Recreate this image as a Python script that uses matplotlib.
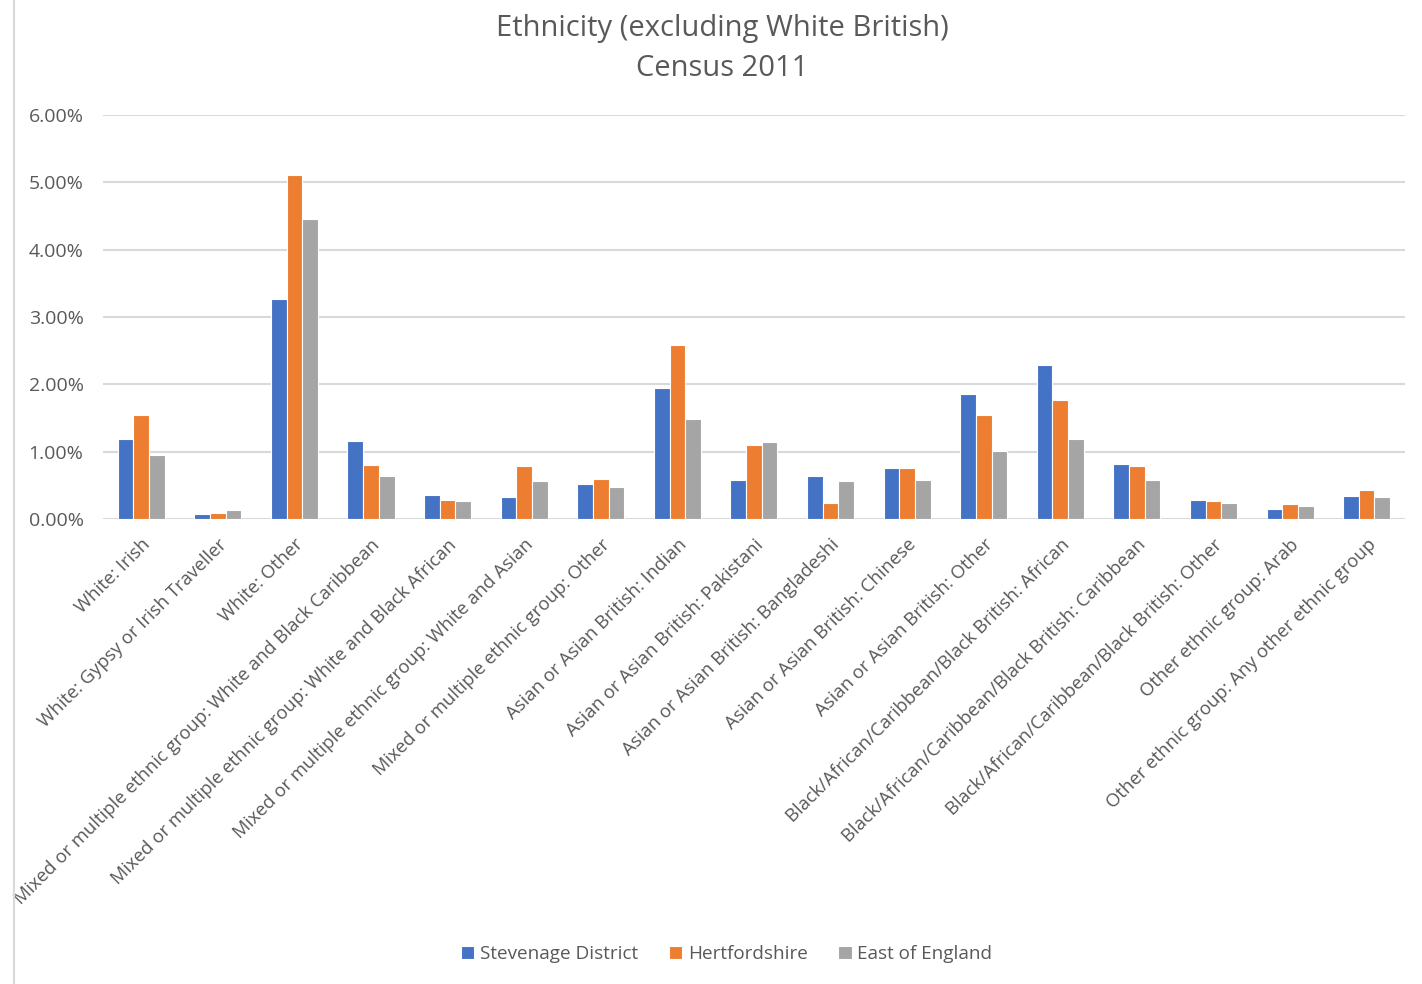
import numpy as np
import matplotlib
matplotlib.use("Agg")
import matplotlib.pyplot as plt
from matplotlib.lines import Line2D
from matplotlib.ticker import PercentFormatter

# Datos (porcentaje de poblacion)
categorias = [
    "White: Irish",
    "White: Gypsy or Irish Traveller",
    "White: Other",
    "Mixed or multiple ethnic group: White and Black Caribbean",
    "Mixed or multiple ethnic group: White and Black African",
    "Mixed or multiple ethnic group: White and Asian",
    "Mixed or multiple ethnic group: Other",
    "Asian or Asian British: Indian",
    "Asian or Asian British: Pakistani",
    "Asian or Asian British: Bangladeshi",
    "Asian or Asian British: Chinese",
    "Asian or Asian British: Other",
    "Black/African/Caribbean/Black British: African",
    "Black/African/Caribbean/Black British: Caribbean",
    "Black/African/Caribbean/Black British: Other",
    "Other ethnic group: Arab",
    "Other ethnic group: Any other ethnic group",
]
stevenage = [1.19, 0.07, 3.27, 1.16, 0.36, 0.33, 0.52, 1.95, 0.58, 0.64, 0.76, 1.86, 2.28, 0.82, 0.28, 0.15, 0.34]
hertfordshire = [1.55, 0.09, 5.11, 0.80, 0.28, 0.79, 0.59, 2.59, 1.10, 0.24, 0.76, 1.55, 1.77, 0.79, 0.27, 0.22, 0.43]
east_england = [0.95, 0.13, 4.45, 0.64, 0.27, 0.56, 0.48, 1.48, 1.14, 0.56, 0.58, 1.01, 1.19, 0.58, 0.24, 0.19, 0.33]

series = ["Stevenage District", "Hertfordshire", "East of England"]
colores = ["#4472C4", "#ED7D31", "#A5A5A5"]
texto = "#595959"

plt.rcParams['font.family'] = ['Open Sans', 'DejaVu Sans']

fig = plt.figure(figsize=(14.22, 9.84), dpi=100)
ax = fig.add_axes([0.0724, 0.4726, 0.9156, 0.4106])

x = np.arange(len(categorias))
ancho = 0.205
for i, (vals, nombre, c) in enumerate(zip([stevenage, hertfordshire, east_england], series, colores)):
    ax.bar(x + (i - 1) * ancho, vals, width=ancho, color=c, edgecolor="white",
           linewidth=0.8, label=nombre, zorder=3)

ax.set_xlim(-0.5, len(categorias) - 0.5)
ax.set_ylim(0, 6)
ax.set_yticks(np.arange(0, 7, 1))
ax.yaxis.set_major_formatter(PercentFormatter(decimals=2))
ax.grid(axis="y", color="#d9d9d9", linewidth=1.5, zorder=0)
for s in ax.spines.values():
    s.set_visible(False)
ax.tick_params(axis="both", length=0, colors=texto)
ax.tick_params(axis="y", pad=14, labelsize=14)
ax.set_xticks(x)
ax.set_xticklabels(categorias, rotation=45, ha="right", va="top",
                   rotation_mode="anchor", fontsize=13.3, color=texto)
ax.tick_params(axis="x", pad=12)

fig.text(0.508, 0.986, "Ethnicity (excluding White British)\nCensus 2011", ha="center", va="top",
         fontsize=21, color=texto, linespacing=1.5)

ax.legend(loc="center", bbox_to_anchor=(0.511, 0.0305), bbox_transform=fig.transFigure,
          ncol=3, frameon=False, fontsize=13.6, handlelength=0.7, handleheight=0.7,
          handletextpad=0.3, columnspacing=1.63, labelcolor=texto)

# borde izquierdo del area del grafico
fig.add_artist(Line2D([0.0099, 0.0099], [0, 1], transform=fig.transFigure, color="#d9d9d9", linewidth=1.5))

fig.savefig("out.png", dpi=100, facecolor="white")
